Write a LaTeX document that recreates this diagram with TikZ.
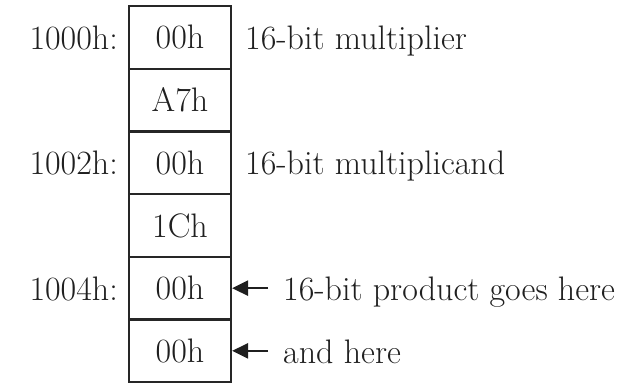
\documentclass[tikz,border=0pt]{standalone}
\usepackage{fontspec}
\usetikzlibrary{arrows.meta}
\begin{document}
\begin{tikzpicture}[x=1pt,y=1pt,
  txt/.style={font=\fontsize{34}{39}\selectfont,text=black!88},
  cell/.style={txt,draw=black!85,line width=2.2pt,minimum width=102pt,minimum height=62.7pt,inner sep=0pt},
  addr/.style={txt,anchor=base east,inner sep=0pt},
  note/.style={txt,anchor=base west,inner sep=0pt},
  pointer/.style={line width=2.6pt,draw=black!88,-{Triangle[length=16pt,width=15pt]}}]
\useasboundingbox (0,0) rectangle (643,-383);
\node[cell] (c0) at (180,-37.35) {00h};
\node[cell] (c1) at (180,-100.05) {A7h};
\node[cell] (c2) at (180,-162.75) {00h};
\node[cell] (c3) at (180,-225.45) {1Ch};
\node[cell] (c4) at (180,-288.15) {00h};
\node[cell] (c5) at (180,-350.85) {00h};
\node[addr] (a0) at (118,-49) {1000h:};
\node[addr] (a2) at (118,-174) {1002h:};
\node[addr] (a4) at (118,-300) {1004h:};
\node[note] (n0) at (245,-49) {16-bit multiplier};
\node[note] (n2) at (245,-174) {16-bit multiplicand};
\node[note] (n4) at (283,-300) {16-bit product goes here};
\node[note] (n5) at (283,-363) {and here};
\coordinate (p4) at (268,-288.15);
\coordinate (p5) at (268,-350.85);
\draw[pointer] (p4) -- (c4.east);
\draw[pointer] (p5) -- (c5.east);
\end{tikzpicture}
\end{document}
